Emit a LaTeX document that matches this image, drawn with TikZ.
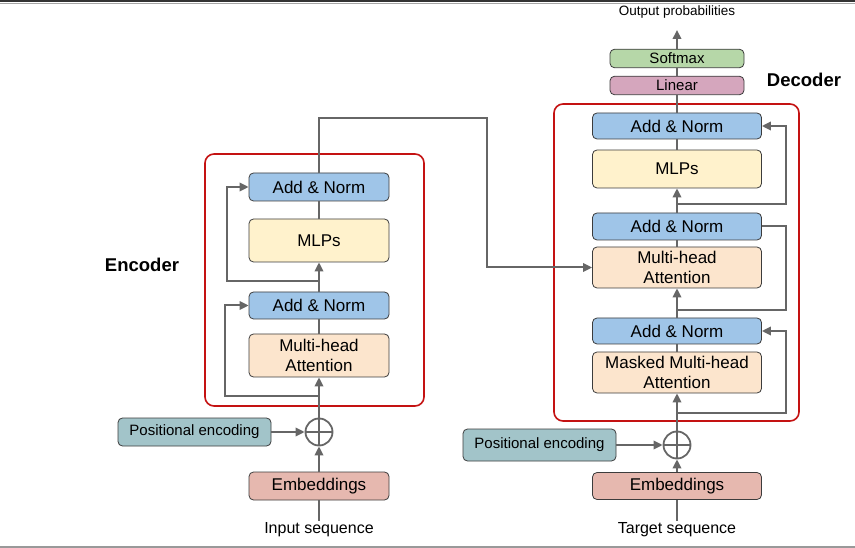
\documentclass[tikz,border=0pt]{standalone}
\usepackage{fontspec}
\setmainfont{Liberation Sans}
\usepackage{xcolor}
\definecolor{ColAdd}{RGB}{159,197,232}
\definecolor{ColMlp}{RGB}{255,242,204}
\definecolor{ColAtt}{RGB}{252,229,205}
\definecolor{ColEmb}{RGB}{230,184,175}
\definecolor{ColPos}{RGB}{162,196,201}
\definecolor{ColSoft}{RGB}{182,215,168}
\definecolor{ColLin}{RGB}{213,166,189}
\definecolor{ColRed}{RGB}{196,18,18}
\definecolor{ColLine}{RGB}{102,102,102}
\definecolor{ColBord}{RGB}{60,60,60}
\usepackage{tikz}
\usetikzlibrary{arrows.meta}
\tikzstyle{Box}=[draw=ColBord,line width=0.8pt,rounded corners=4.5pt,
inner sep=0pt,align=center,font=\fontsize{17}{20}\selectfont]
\tikzstyle{EncBox}=[Box,minimum width=140pt]
\tikzstyle{DecBox}=[Box,minimum width=169pt]
\tikzstyle{SmallBox}=[Box,minimum width=134pt,minimum height=18.5pt,
font=\fontsize{15}{18}\selectfont]
\tikzstyle{AddN}=[fill=ColAdd]
\tikzstyle{Mlp}=[fill=ColMlp]
\tikzstyle{Att}=[fill=ColAtt]
\tikzstyle{Emb}=[fill=ColEmb]
\tikzstyle{Pos}=[Box,fill=ColPos,minimum width=153pt,
font=\fontsize{15}{18}\selectfont]
\tikzstyle{Plus}=[circle,draw=ColLine,line width=1.8pt,minimum size=27pt,
inner sep=0pt]
\tikzstyle{Label}=[inner sep=2pt,font=\fontsize{16}{19}\selectfont]
\tikzstyle{Title}=[inner sep=0pt,font=\fontsize{18.5}{22}\selectfont\bfseries]
\tikzstyle{Edge}=[draw=ColLine,line width=2pt]
\tikzstyle{Arrow}=[Edge,-{Triangle[length=9pt,width=8.5pt]}]
\tikzstyle{Frame}=[draw=ColRed,line width=1.6pt,rounded corners=9pt]

\begin{document}
\begin{tikzpicture}[x=1pt,y=1pt]
        \useasboundingbox(0,0)rectangle(855,-548);
        \draw[line width=2.2pt,black!80](0,-1.1)--(855,-1.1);
        \draw[line width=1pt,black!35](0,-4)--(855,-4);
        \draw[line width=1.5pt,black!40](0,-547.2)--(855,-547.2);
        \draw[Frame](205,-154)rectangle(424,-406);
        \draw[Frame](554,-104)rectangle(799,-421);
        \node[EncBox,Emb,minimum height=28pt](eemb)at(319,-486){Embeddings};
        \node[Pos,minimum height=28pt](epos)at(194.5,-432)
            {Positional encoding};
        \node[Plus](eplus)at(319,-432){};
        \node[EncBox,Att,minimum height=43pt](eatt)at(319,-355.5)
            {Multi-head\\Attention};
        \node[EncBox,AddN,minimum height=27pt](eadd1)at(319,-305.5)
            {Add \& Norm};
        \node[EncBox,Mlp,minimum height=43pt](emlp)at(319,-240.5){MLPs};
        \node[EncBox,AddN,minimum height=28pt](eadd2)at(319,-187)
            {Add \& Norm};
        \node[Label](ein)at(319,-530){Input sequence};
        \node[Title](enc)at(142,-265){Encoder};
        \node[DecBox,Emb,minimum height=27pt](demb)at(677,-486){Embeddings};
        \node[Pos,minimum height=32pt](dpos)at(539.5,-445)
            {Positional encoding};
        \node[Plus](dplus)at(677,-445){};
        \node[DecBox,Att,minimum height=41pt](datt1)at(677,-372.5)
            {Masked Multi-head\\Attention};
        \node[DecBox,AddN,minimum height=26pt](dadd1)at(677,-331)
            {Add \& Norm};
        \node[DecBox,Att,minimum height=41pt](datt2)at(677,-267.5)
            {Multi-head\\Attention};
        \node[DecBox,AddN,minimum height=27pt](dadd2)at(677,-226.5)
            {Add \& Norm};
        \node[DecBox,Mlp,minimum height=38pt](dmlp)at(677,-169){MLPs};
        \node[DecBox,AddN,minimum height=26pt](dadd3)at(677,-126)
            {Add \& Norm};
        \node[SmallBox,fill=ColLin](dlin)at(677,-85.5){Linear};
        \node[SmallBox,fill=ColSoft](dsoft)at(677,-58.5){Softmax};
        \node[Label,font=\fontsize{13.5}{16}\selectfont](dout)at(677,-12)
            {Output probabilities};
        \node[Label](din)at(677,-530){Target sequence};
        \node[Title](dec)at(804,-80){Decoder};
        \coordinate(er1)at(319,-396);
        \coordinate(er2)at(319,-281);
        \coordinate(cross)at(487,-118);
        \coordinate(dr1)at(677,-413);
        \coordinate(dr2)at(677,-310);
        \coordinate(dr3)at(677,-204);
        \coordinate(dtop)at(677,-30);
        \draw[Edge](eplus.north)--(eplus.south);
        \draw[Edge](eplus.west)--(eplus.east);
        \draw[Edge](dplus.north)--(dplus.south);
        \draw[Edge](dplus.west)--(dplus.east);
        \draw[Edge](ein)--(eemb);
        \draw[Arrow](eemb)--(eplus);
        \draw[Arrow](epos)--(eplus);
        \draw[Arrow](eplus)--(eatt);
        \draw[Edge](eatt)--(eadd1);
        \draw[Arrow](eadd1)--(emlp);
        \draw[Edge](emlp)--(eadd2);
        \draw[Arrow](er1)-|([xshift=-24pt]eadd1.west)--(eadd1.west);
        \draw[Arrow](er2)-|([xshift=-22pt]eadd2.west)--(eadd2.west);
        \draw[Arrow](eadd2.north)|-(cross)|-(datt2.west);
        \draw[Edge](din)--(demb);
        \draw[Arrow](demb)--(dplus);
        \draw[Arrow](dpos)--(dplus);
        \draw[Arrow](dplus)--(datt1);
        \draw[Edge](datt1)--(dadd1);
        \draw[Arrow](dadd1)--(datt2);
        \draw[Edge](datt2)--(dadd2);
        \draw[Arrow](dadd2)--(dmlp);
        \draw[Edge](dmlp)--(dadd3);
        \draw[Edge](dadd3)--(dlin);
        \draw[Edge](dlin)--(dsoft);
        \draw[Arrow](dsoft)--(dtop);
        \draw[Arrow](dr1)-|([xshift=24pt]dadd1.east)--(dadd1.east);
        \draw[Edge](dr2)-|([xshift=24pt]dadd2.east)--(dadd2.east);
        \draw[Arrow](dr3)-|([xshift=24pt]dadd3.east)--(dadd3.east);
    \end{tikzpicture}
\end{document}
